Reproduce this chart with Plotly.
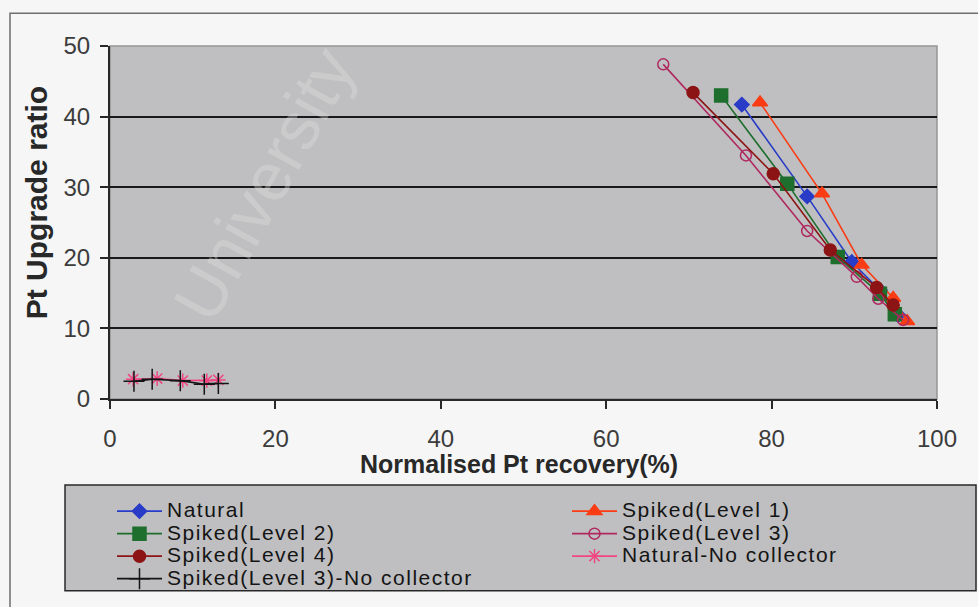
import plotly.graph_objects as go

# Flotation results: normalised Pt recovery (%) vs Pt upgrade ratio
natural_x = [76.4, 84.3, 89.7, 93.1, 95.3]
natural_y = [41.7, 28.7, 19.4, 15.4, 11.9]

level1_x = [78.6, 86.1, 90.9, 94.7, 96.4]
level1_y = [42.0, 29.1, 19.0, 14.3, 11.0]

level2_x = [73.9, 81.9, 88.0, 93.1, 94.9]
level2_y = [43.0, 30.5, 20.1, 14.9, 12.0]

level3_x = [66.9, 76.9, 84.3, 90.3, 92.9, 95.9]
level3_y = [47.4, 34.5, 23.8, 17.3, 14.2, 11.2]

level4_x = [70.5, 80.2, 87.1, 92.7, 94.7]
level4_y = [43.4, 31.9, 21.1, 15.8, 13.3]

natural_nc_x = [2.8, 5.7, 8.8, 11.7, 13.1]
natural_nc_y = [2.8, 2.9, 2.6, 2.6, 2.7]

level3_nc_x = [2.9, 5.1, 8.5, 11.4, 13.1]
level3_nc_y = [2.5, 2.8, 2.6, 2.1, 2.2]

# name, x, y, colour, marker symbol, marker size, legend column
series = [
    ("Natural", natural_x, natural_y, "rgb(40,60,200)", "diamond", 11, "legend"),
    ("Spiked(Level 1)", level1_x, level1_y, "rgb(250,60,20)", "triangle-up", 13, "legend2"),
    ("Spiked(Level 2)", level2_x, level2_y, "rgb(30,110,45)", "square", 13, "legend"),
    ("Spiked(Level 3)", level3_x, level3_y, "rgb(175,40,95)", "circle-open", 11, "legend2"),
    ("Spiked(Level 4)", level4_x, level4_y, "rgb(140,20,20)", "circle", 12, "legend"),
    ("Natural-No collector", natural_nc_x, natural_nc_y, "rgb(240,70,130)", "asterisk-open", 12, "legend2"),
    ("Spiked(Level 3)-No collector", level3_nc_x, level3_nc_y, "rgb(20,20,20)", "cross-thin-open", 15, "legend"),
]

# plot-area geometry in pixels (used to place boxes and labels)
W, H = 978, 607
L, R, T, B = 110, 41, 46, 204
PW, PH = W - L - R, H - T - B


def px(xp):
    return (xp - L) / PW


def py(yp):
    return (H - B - yp) / PH


font = "Liberation Sans, Arial, sans-serif"
LEGEND_STYLE = "font-size:21px;letter-spacing:1.5px"

fig = go.Figure()
for name, xs, ys, col, sym, size, leg in series:
    fig.add_trace(go.Scatter(
        x=xs, y=ys, mode="lines+markers",
        name=f'<span style="{LEGEND_STYLE}">{name}</span>',
        legend=leg,
        line=dict(color=col, width=1.6),
        marker=dict(symbol=sym, size=size, color=col,
                    line=dict(color=col, width=1.5)),
        hovertemplate=name + ": %{x}, %{y}<extra></extra>",
    ))

legend_common = dict(
    orientation="v", yanchor="top", xanchor="left",
    bgcolor="rgba(0,0,0,0)", borderwidth=0,
    font=dict(family=font, size=15, color="rgb(20,20,20)"),
    itemwidth=45, tracegroupgap=0,
)

fig.update_layout(
    width=W, height=H,
    margin=dict(l=L, r=R, t=T, b=B, pad=0),
    paper_bgcolor="rgb(246,246,246)",
    plot_bgcolor="rgb(191,191,193)",
    font=dict(family=font, size=24, color="rgb(40,40,40)"),
    showlegend=True,
    legend=dict(x=px(112), y=py(500), **legend_common),
    legend2=dict(x=px(567), y=py(500), **legend_common),
    xaxis=dict(
        range=[0, 100], dtick=20, showgrid=False, zeroline=False,
        showline=True, linecolor="rgb(40,40,40)", linewidth=2,
        ticks="outside", ticklen=8, tickwidth=1.5, tickcolor="rgb(40,40,40)",
        ticklabelstandoff=9,
        tickfont=dict(size=24, color="rgb(60,60,60)"),
    ),
    yaxis=dict(
        range=[0, 50], dtick=10, showgrid=True, gridcolor="rgb(25,25,25)",
        gridwidth=2, zeroline=False,
        showline=True, linecolor="rgb(40,40,40)", linewidth=2,
        ticks="outside", ticklen=8, tickwidth=1.5, tickcolor="rgb(40,40,40)",
        ticklabelstandoff=5,
        tickfont=dict(size=24, color="rgb(60,60,60)"),
    ),
    shapes=[
        # chart frame
        dict(type="rect", xref="paper", yref="paper",
             x0=px(10), x1=px(990), y0=py(620), y1=py(13),
             line=dict(color="rgb(110,110,110)", width=1.5), layer="below"),
        # plot area border
        dict(type="rect", xref="paper", yref="paper",
             x0=0, x1=1, y0=0, y1=1,
             line=dict(color="rgb(150,150,150)", width=1.5), layer="below"),
        # legend box
        dict(type="rect", xref="paper", yref="paper",
             x0=px(65), x1=px(976), y0=py(597), y1=py(490),
             fillcolor="rgb(191,191,193)",
             line=dict(color="rgb(40,40,40)", width=1.5), layer="below"),
    ],
    annotations=[
        dict(text="<b>Normalised Pt recovery(%)</b>", xref="paper", yref="paper",
             x=px(519), y=py(469), xanchor="center", yanchor="middle",
             showarrow=False,
             font=dict(family=font, size=25, color="rgb(40,40,40)")),
        dict(text="<b>Pt Upgrade ratio</b>", xref="paper", yref="paper",
             x=px(36), y=py(205), xanchor="center", yanchor="middle",
             showarrow=False, textangle=-90,
             font=dict(family=font, size=30, color="rgb(40,40,40)")),
        # faint diagonal watermark
        dict(text="University", xref="paper", yref="paper",
             x=px(264), y=py(186), xanchor="center", yanchor="middle",
             showarrow=False, textangle=-61,
             font=dict(family=font, size=68, color="rgba(225,225,225,0.35)")),
    ],
)

fig.write_html("out.html")
